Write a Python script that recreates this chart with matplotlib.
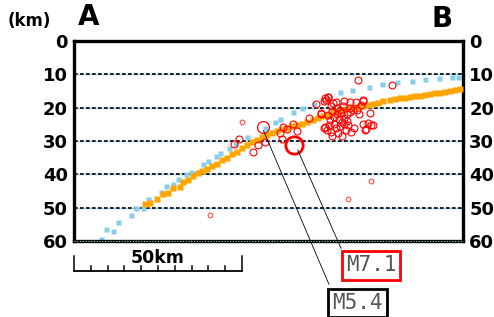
import matplotlib
matplotlib.use("Agg")
import matplotlib.pyplot as plt

# ---------- データ (距離 km, 深さ km) ----------
depth_ticks = [0, 10, 20, 30, 40, 50, 60]

# 水色: 上側の境界
blue_x = [7.9, 9.4, 11.7, 13.2, 16.9, 18.4, 20.6, 22.1, 25.8, 27.3, 29.6, 31.0,
          33.3, 34.7, 38.5, 40.0, 42.3, 43.6, 46.0, 47.9, 51.4, 56.9, 59.9, 61.3,
          65.3, 67.8, 71.5, 75.8, 79.3, 82.8, 87.8, 91.6, 96.1, 100.5, 104.5,
          108.8, 112.4, 114.4]
blue_d = [59.3, 56.5, 56.9, 54.2, 52.1, 50.0, 50.2, 47.5, 45.4, 43.4, 43.0, 41.4,
          40.0, 39.2, 37.0, 35.9, 34.5, 33.7, 32.2, 31.0, 28.7, 26.2, 24.2, 23.4,
          21.4, 20.0, 18.8, 17.2, 15.4, 14.7, 13.7, 12.9, 12.2, 11.9, 11.5,
          11.2, 10.9, 10.7]

# オレンジ: プレート境界
orange_x = [21.1, 22.6, 24.8, 26.6, 28.1, 29.6, 31.5, 32.5, 34.0, 35.5, 37.0, 38.0,
            39.5, 41.0, 42.5, 44.0, 45.4, 47.0, 48.5, 50.0, 51.5, 53.0, 54.5, 56.0,
            57.5, 59.0, 60.5, 62.0, 63.5, 65.0, 66.5, 68.0, 69.5, 71.0, 72.5, 74.0,
            75.5, 77.0, 78.5, 80.0, 81.5, 83.0, 84.5, 86.0, 87.5, 89.0, 90.5, 92.0,
            94.1, 95.5, 97.1, 98.5, 100.0, 101.5, 103.0, 104.5, 106.0, 107.5,
            109.0, 110.5, 111.9, 113.5, 114.9]
orange_d = [49.0, 48.5, 47.5, 46.0, 45.5, 44.2, 43.7, 42.2, 41.7, 40.5, 39.6, 38.9,
            38.5, 37.5, 36.9, 35.7, 35.2, 34.0, 33.2, 32.0, 31.2, 30.3, 29.6, 28.8,
            28.2, 27.6, 27.0, 26.5, 26.0, 25.6, 25.2, 24.8, 24.3, 23.8, 23.2, 22.6,
            22.1, 21.6, 21.1, 20.7, 20.4, 20.1, 19.9, 19.6, 19.3, 19.0, 18.5, 18.1,
            17.7, 17.4, 17.2, 17.0, 16.9, 16.6, 16.4, 16.1, 15.9, 15.7,
            15.5, 15.2, 15.0, 14.8, 14.5]

# 赤丸: 余震
quake_x = [84.5, 74.8, 74.3, 75.5, 78.0, 80.3, 80.1, 82.3, 83.8, 85.9, 85.3, 70.1,
           73.5, 75.5, 76.1, 76.9, 77.5, 78.3, 78.9, 79.5, 79.9, 80.5, 81.3, 82.1,
           83.1, 84.3, 84.9, 74.8, 75.3, 76.5, 76.9, 77.9, 78.5, 79.3, 79.7, 80.9,
           81.5, 82.5, 83.5, 85.9, 86.9, 88.5, 75.9, 74.3, 77.3, 80.5, 78.3, 76.5,
           82.3, 81.3, 79.1, 53.4, 54.9, 56.9, 61.3, 62.3, 63.3, 65.1, 66.3, 61.8,
           72.0, 73.4, 75.0, 75.7, 77.2, 86.1, 88.1, 87.6, 88.9, 86.6, 94.6,
           47.5, 49.0]
quake_d = [11.6, 17.2, 18.0, 16.8, 18.2, 18.0, 19.6, 20.0, 18.2, 17.6, 19.2, 23.2,
           21.8, 22.2, 23.7, 21.0, 22.8, 22.0, 23.4, 21.6, 24.4, 23.0, 22.0, 21.2,
           20.7, 20.6, 21.8, 25.7, 26.8, 27.4, 28.4, 26.2, 27.7, 25.6, 28.4, 26.8,
           25.2, 27.2, 26.2, 24.8, 26.4, 25.2, 25.2, 26.2, 24.8, 24.8, 20.0, 19.4,
           18.4, 24.0, 20.7, 33.2, 31.2, 30.2, 27.7, 25.7, 26.5, 24.9, 26.9, 29.5,
           18.9, 21.7, 17.7, 16.7, 18.5, 17.9, 21.7, 24.7, 25.2, 26.7, 13.1,
           31.0, 29.5]

# 小さい薄い赤丸
minor_x = [49.9, 40.5, 88.3, 81.5]
minor_d = [24.2, 52.2, 41.9, 47.5]

# 本震・前震
m54_x, m54_d = 56.4, 25.9
m71_x, m71_d = 65.6, 31.2

# ---------- 描画 ----------
fig = plt.figure(figsize=(4.94, 3.17), dpi=100)
ax = fig.add_axes([74 / 494, 1 - 241 / 317, 389 / 494, 200 / 317])
ax.set_xlim(0, 115.8)
ax.set_ylim(60, 0)

# 破線グリッド
for d in depth_ticks[1:-1]:
    ax.axhline(d, color="#9fd3ea", lw=1.0, zorder=1)
    ax.axhline(d, color="black", lw=1.2, ls=(0, (2.2, 1.4)), zorder=1.5)

ax.plot(blue_x, blue_d, "s", ms=3.6, color="#87CEEB", mec="none", zorder=2)
ax.plot(orange_x, orange_d, "s", ms=4.7, color="#FFA500", mec="none", zorder=3)
ax.plot(quake_x, quake_d, "o", ms=5, mfc="none", mec="#FF0000", mew=0.8, zorder=4)
ax.plot(minor_x, minor_d, "o", ms=3.4, mfc="none", mec="#FF5050", mew=0.8, zorder=4)
ax.plot([m54_x], [m54_d], "o", ms=8.5, mfc="none", mec="#FF0000", mew=0.9, zorder=5)
ax.plot([m71_x], [m71_d], "o", ms=12.5, mfc="none", mec="#FF0000", mew=2.0, zorder=5)

# 軸
for side in ["left", "top", "right", "bottom"]:
    ax.spines[side].set_linewidth(2.4)
ax.axhline(60, color="#9fd3ea", lw=0.8, ls=(0, (1, 1.5)), zorder=6, clip_on=False)
ax.set_xticks([])
ax.set_yticks(depth_ticks)
ax.set_yticklabels([str(t) for t in depth_ticks])
ax.tick_params(axis="y", length=0, labelleft=True, labelright=True, pad=4.5,
               labelsize=13)
for lab in ax.get_yticklabels():
    lab.set_fontweight("bold")

fig.text(8 / 494, 1 - 21 / 317, "(km)", fontsize=12, fontweight="bold",
         va="center", ha="left")
fig.text(89 / 494, 1 - 17 / 317, "A", fontsize=20, fontweight="bold",
         va="center", ha="center")
fig.text(442 / 494, 1 - 19 / 317, "B", fontsize=20, fontweight="bold",
         va="center", ha="center")

# スケールバー 50km
ax.plot([0, 50], [69.1, 69.1], color="black", lw=1.3, clip_on=False)
for i in range(11):
    top = 64.6 if i in (0, 10) else 67.6
    ax.plot([i * 5, i * 5], [top, 69.1], color="black", lw=1.1, clip_on=False)
ax.text(25, 66.5, "50km", fontsize=12.5, fontweight="bold", ha="center",
        va="baseline", clip_on=False)

# 注記
ax.plot([m71_x + 1.0, 79.5], [m71_d + 1.5, 62.2], color="black", lw=0.6,
        clip_on=False, zorder=5)
ax.plot([m54_x, 75.9], [m54_d + 1.0, 73.0], color="black", lw=0.6,
        clip_on=False, zorder=5)
ax.text(88.4, 67.3, "M7.1", fontsize=15, family="DejaVu Sans Mono", color="#555555",
        ha="center", va="center", clip_on=False,
        bbox=dict(boxstyle="square,pad=0.2", fc="white", ec="#FF0000", lw=2.0))
ax.text(84.5, 78.6, "M5.4", fontsize=15, family="DejaVu Sans Mono", color="#555555",
        ha="center", va="center", clip_on=False,
        bbox=dict(boxstyle="square,pad=0.2", fc="white", ec="black", lw=2.0))

fig.savefig("out.png", dpi=100)
